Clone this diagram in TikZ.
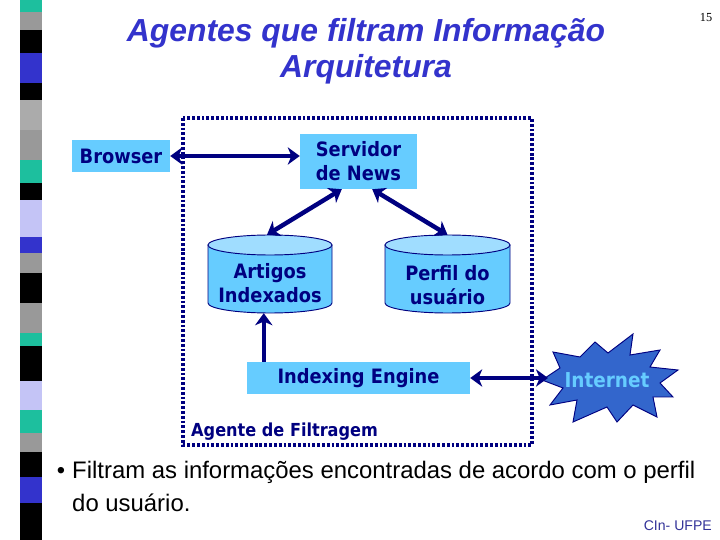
\documentclass[tikz,border=0pt]{standalone}
\usepackage{fontspec}
\setmainfont{Liberation Sans}
\newfontfamily\tah{DejaVu Sans Condensed}
\newfontfamily\tms{Liberation Serif}
\usetikzlibrary{arrows.meta}
\definecolor{navy}{HTML}{000080}
\definecolor{sky}{HTML}{66CCFF}
\definecolor{skytop}{HTML}{A0DDFF}
\definecolor{ttlblue}{HTML}{3333CC}
\definecolor{stteal}{HTML}{1DBF9E}
\definecolor{stgray}{HTML}{999999}
\definecolor{stlgray}{HTML}{ABABAB}
\definecolor{stlav}{HTML}{C4C4F6}
\definecolor{stblue}{HTML}{3333CC}
\definecolor{starblue}{HTML}{3366CC}
\definecolor{cinblue}{HTML}{333399}
\newlength\px
\setlength\px{0.03cm}
\tikzset{
  boxnode/.style={fill=sky, inner sep=0pt, text=navy, font=\tah\bfseries\fontsize{16.9}{20.4}\selectfont, align=center},
  cyllabel/.style={inner sep=0pt, text=navy, font=\tah\bfseries\fontsize{16.9}{20.4}\selectfont, align=center},
  cylarea/.style={inner sep=0pt},
  dblarrow/.style={draw=navy, line width=3.8pt, {Stealth[length=3.6mm,width=5.2mm,inset=1.1mm]}-{Stealth[length=3.6mm,width=5.2mm,inset=1.1mm]}},
  uparrow/.style={draw=navy, line width=3.8pt, -{Stealth[length=3.6mm,width=5.2mm,inset=1.1mm]}},
  cylbody/.style={fill=sky, draw=navy, line width=0.8pt},
  cyltop/.style={fill=skytop, draw=navy, line width=0.8pt},
}
\begin{document}
\begin{tikzpicture}[x=0.03cm,y=0.03cm]
\useasboundingbox (0,0) rectangle (720,-540);
\fill[white] (0,0) rectangle (720,-540);
% left stripe
\foreach \a/\b/\c in {0/12/stteal,12/30/stgray,30/53/black,53/83/stblue,83/100/black,100/130/stlgray,130/160/stgray,160/183/stteal,183/200/black,200/237/stlav,237/253/stblue,253/273/stgray,273/303/black,303/333/stgray,333/346/stteal,346/381/black,381/410/stlav,410/433/stteal,433/452/stgray,452/477/black,477/503/stblue,503/540/black}
  \fill[\c] (20,-\a) rectangle (42,-\b);
% title
\node[text=ttlblue, font=\bfseries\itshape\fontsize{27.2}{30.6}\selectfont, align=center] (title) at (366,-51) {Agentes que filtram Informação\\Arquitetura};
\node[font=\tms\fontsize{10.5}{12}\selectfont] (pg) at (706,-18) {15};
% dotted frame
\draw[navy, line width=3.2pt, dash pattern=on 2.4pt off 1.7pt] (183,-118) rectangle (532,-445);
\node[anchor=west, text=navy, font=\tah\bfseries\fontsize{15.3}{18}\selectfont, inner sep=0pt] (agent) at (191,-432) {Agente de Filtragem};
% boxes
\node[boxnode, minimum width=98\px, minimum height=32\px] (br) at (121,-156) {Browser};
\node[boxnode, minimum width=117\px, minimum height=55\px] (srv) at (358.5,-161.5) {Servidor\\de News};
\node[boxnode, minimum width=223\px, minimum height=32\px] (idx) at (358.5,-378) {Indexing Engine};
% cylinders
\filldraw[cylbody] (208,-245) -- (208,-303) arc[start angle=180,end angle=360,x radius=62\px,y radius=10\px] -- (332,-245) -- cycle;
\filldraw[cyltop] (270,-245) ellipse[x radius=62\px, y radius=10\px];
\filldraw[cylbody] (385,-245) -- (385,-303) arc[start angle=180,end angle=360,x radius=62.5\px,y radius=10\px] -- (510,-245) -- cycle;
\filldraw[cyltop] (447.5,-245) ellipse[x radius=62.5\px, y radius=10\px];
\node[cylarea, minimum width=124\px, minimum height=78\px] (art) at (270,-274) {};
\node[cylarea, minimum width=125\px, minimum height=78\px] (prf) at (447.5,-274) {};
\node[cyllabel] (artl) at (270,-283) {Artigos\\Indexados};
\node[cyllabel] (prfl) at (447.5,-285) {Perfil do\\usuário};
% internet starburst
\filldraw[fill=starblue, draw=navy, line width=0.8pt]
  (542,-380) -- (560,-368) -- (553,-352) -- (580,-357) -- (595,-342) -- (608,-353)
  -- (633,-334) -- (630,-355) -- (660,-350) -- (650,-367) -- (678,-370) -- (660,-383)
  -- (673,-397) -- (653,-397) -- (657,-417) -- (633,-405) -- (617,-422) -- (607,-407)
  -- (573,-422) -- (577,-400) -- (550,-405) -- (563,-388) -- cycle;
\node[text=sky, font=\tah\bfseries\fontsize{17.5}{20}\selectfont, inner sep=0pt] (inet) at (607,-380) {Internet};
\coordinate (inetL) at (548,-378);
% connectors
\draw[dblarrow] (br.east) -- (br.east -| srv.west);
\draw[dblarrow] ([xshift=42\px]srv.south west) -- ([xshift=-3\px]art.north);
\draw[dblarrow] ([xshift=-45\px]srv.south east) -- (prf.north);
\draw[uparrow] ([xshift=17\px]idx.north west) -- ([xshift=17\px]idx.north west |- art.south);
\draw[dblarrow] (idx.east) -- (inetL);
% bullet text
\node[font=\fontsize{20.2}{28}\selectfont, inner sep=0pt] (bul) at (61,-473) {•};
\node[anchor=north west, align=left, font=\fontsize{20.4}{28}\selectfont, inner sep=0pt] (txt) at (72,-461) {Filtram as informações encontradas de acordo com o perfil\\do usuário.};
\node[anchor=east, text=cinblue, font=\fontsize{12}{14}\selectfont, inner sep=0pt] (cin) at (712,-526) {CIn- UFPE};
\end{tikzpicture}
\end{document}
